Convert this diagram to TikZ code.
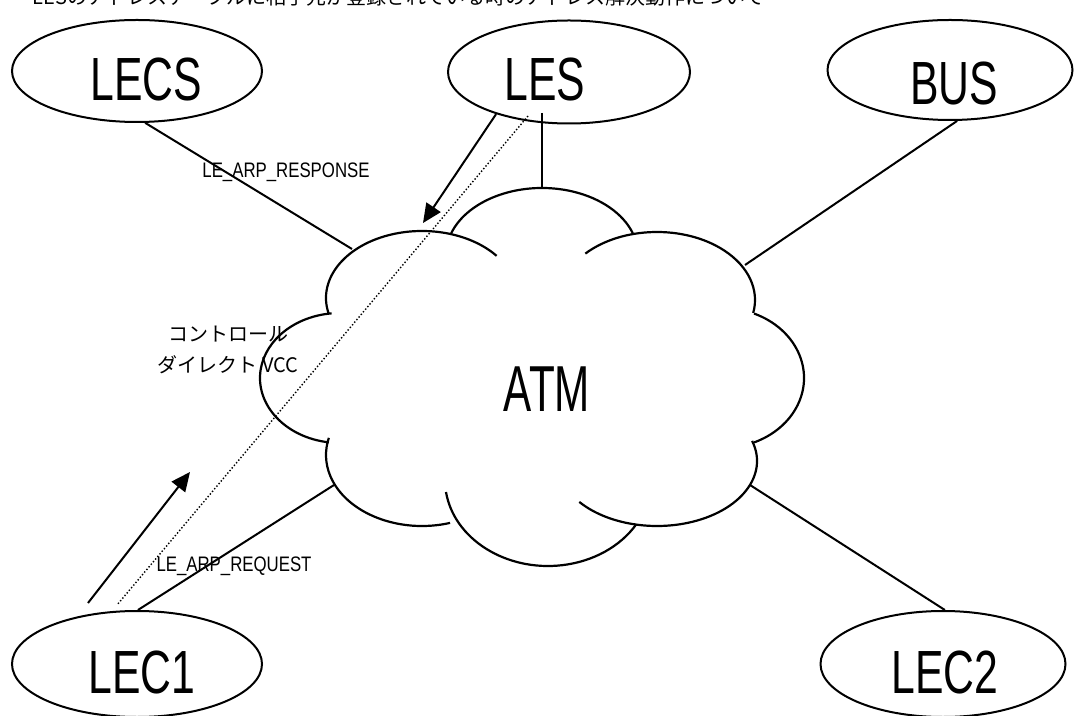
\documentclass[tikz,border=0pt]{standalone}
\usepackage{fontspec}
\setmainfont{Liberation Sans}
\newfontfamily\narrowfont[FakeStretch=0.70]{Liberation Sans}
\newfontfamily\atmfont[FakeStretch=0.65]{Liberation Sans}
\newfontfamily\labelfont[FakeStretch=0.80]{Liberation Sans}
\newfontfamily\jpfont{Noto Sans CJK JP}
\usetikzlibrary{shapes.geometric,arrows.meta}
\begin{document}
\begin{tikzpicture}[x=1pt,y=1pt,
  ell/.style={draw,ellipse,line width=2pt,inner sep=0pt},
  bigtxt/.style={font=\narrowfont\fontsize{61}{61}\selectfont,inner sep=0pt},
  conn/.style={line width=2pt},
  lbl/.style={font=\labelfont\fontsize{21}{21}\selectfont,inner sep=0pt,anchor=base},
  dotline/.style={line width=1.4pt,dash pattern=on 1.4pt off 2pt},
  arr/.style={line width=2pt,-{Triangle[length=19pt,width=17pt]}},
  lobe/.style={line width=2.2pt}]
\useasboundingbox (0,0) rectangle (1075,715);
\fill[white] (0,0) rectangle (1075,715);

% title (cut off at the top edge)
\node[anchor=base east,font=\jpfont\fontsize{20}{20}\selectfont,inner sep=0pt] (title) at (765,710.5)
  {LESのアドレステーブルに相手先が登録されている時のアドレス解決動作について};

% ellipses
\node[ell,minimum width=250pt,minimum height=102pt] (lecs) at (137,644) {};
\node[ell,minimum width=242pt,minimum height=103pt] (les) at (569,643) {};
\node[ell,minimum width=245pt,minimum height=100pt] (bus) at (950,645) {};
\node[ell,minimum width=250pt,minimum height=106pt] (lec1) at (137,51) {};
\node[ell,minimum width=245pt,minimum height=106pt] (lec2) at (943,51) {};

% cloud
\draw[lobe] (542,460) ++(161:96 and 67) arc[start angle=161,end angle=19,x radius=96,y radius=67];
\draw[lobe] (657,415) ++(137:98 and 68) arc[start angle=137,end angle=-11,x radius=98,y radius=68];
\draw[lobe] (722,337) ++(67:82 and 70) arc[start angle=67,end angle=-67,x radius=82,y radius=70];
\draw[lobe] (657,254) ++(18:100 and 65) arc[start angle=18,end angle=-141,x radius=100,y radius=65];
\draw[lobe] (548,235) ++(188:103 and 86) arc[start angle=188,end angle=329,x radius=103,y radius=86];
\draw[lobe] (422,260) ++(-73:96 and 71) arc[start angle=-73,end angle=-194,x radius=96,y radius=71];
\draw[lobe] (340,337) ++(262:80 and 65) arc[start angle=262,end angle=96,x radius=80,y radius=65];
\draw[lobe] (422,417) ++(194:96 and 67) arc[start angle=194,end angle=39,x radius=96,y radius=67];

% cloud attachment points
\coordinate (ctop) at (542,527);
\coordinate (cul) at (352,466);
\coordinate (cur) at (745,450);
\coordinate (cll) at (334,230);
\coordinate (clr) at (750,230);
\coordinate (lesb) at (542,602);

% connectors
\draw[conn] (lecs.-81) -- (cul);
\draw[conn] (bus.-82) -- (cur);
\draw[conn] (lec1.89) -- (cll);
\draw[conn] (lec2.88) -- (clr);
\draw[conn] (lesb) -- (ctop);

% arrows and dotted VCC
\coordinate (resptip) at (423,492);
\draw[arr] (les.210) -- (resptip);
\coordinate (reqs) at (88,112);
\coordinate (reqtip) at (190,243);
\draw[arr] (reqs) -- (reqtip);
\coordinate (ds) at (528,599);
\coordinate (de) at (117,110);
\draw[dotline] (ds) -- (de);

% texts
\node[bigtxt] (lecst) at (146.5,635) {LECS};
\node[bigtxt] (lest) at (545,635) {LES};
\node[bigtxt] (bust) at (954,631) {BUS};
\node[bigtxt] (lec1t) at (142,43) {LEC1};
\node[bigtxt] (lec2t) at (945,43) {LEC2};
\node[bigtxt,font=\atmfont\fontsize{65}{65}\selectfont] (atmt) at (547,326) {ATM};
\node[lbl] (resp) at (286,537) {LE\_ARP\_RESPONSE};
\node[lbl] (req) at (234,144) {LE\_ARP\_REQUEST};
\node[font=\jpfont\fontsize{20}{31}\selectfont,align=center,inner sep=0pt] (vcc) at (228,365.5)
  {コントロール\\ダイレクト VCC};
\end{tikzpicture}
\end{document}
